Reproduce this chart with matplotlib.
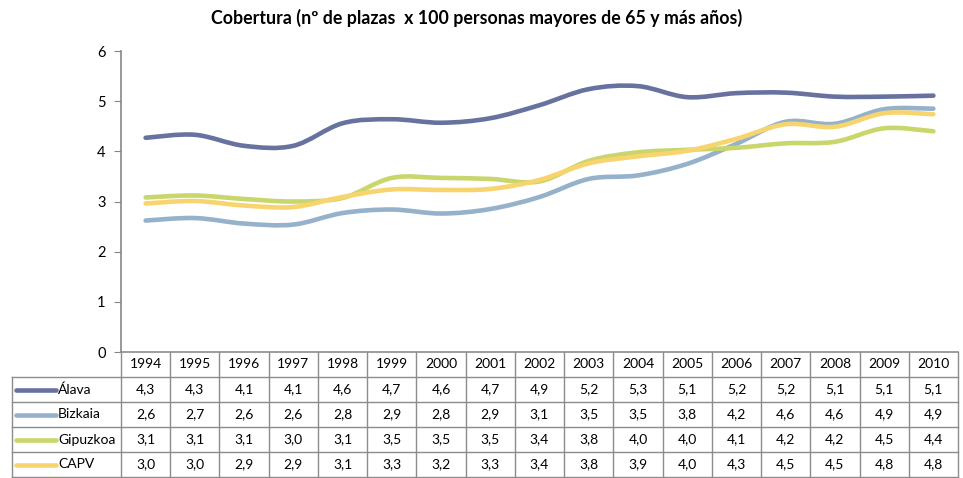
import matplotlib.pyplot as plt
from matplotlib.path import Path
from matplotlib.patches import PathPatch
import numpy as np

# data
years = [1994, 1995, 1996, 1997, 1998, 1999, 2000, 2001, 2002,
         2003, 2004, 2005, 2006, 2007, 2008, 2009, 2010]
series_names = ["Álava", "Bizkaia", "Gipuzkoa", "CAPV"]
alava = [4.27, 4.33, 4.11, 4.11, 4.56, 4.64, 4.57, 4.66, 4.92,
         5.24, 5.30, 5.08, 5.16, 5.17, 5.09, 5.09, 5.11]
bizkaia = [2.62, 2.67, 2.56, 2.54, 2.77, 2.84, 2.76, 2.85, 3.09,
           3.45, 3.52, 3.75, 4.15, 4.59, 4.55, 4.84, 4.85]
gipuzkoa = [3.08, 3.12, 3.05, 3.00, 3.07, 3.47, 3.47, 3.45, 3.40,
            3.81, 3.98, 4.03, 4.07, 4.16, 4.19, 4.46, 4.40]
capv = [2.96, 3.01, 2.92, 2.89, 3.09, 3.24, 3.23, 3.25, 3.43,
        3.76, 3.90, 4.01, 4.25, 4.54, 4.49, 4.76, 4.74]
# values printed in the data table
tab_alava = ["4,3", "4,3", "4,1", "4,1", "4,6", "4,7", "4,6", "4,7", "4,9",
             "5,2", "5,3", "5,1", "5,2", "5,2", "5,1", "5,1", "5,1"]
tab_bizkaia = ["2,6", "2,7", "2,6", "2,6", "2,8", "2,9", "2,8", "2,9", "3,1",
               "3,5", "3,5", "3,8", "4,2", "4,6", "4,6", "4,9", "4,9"]
tab_gipuzkoa = ["3,1", "3,1", "3,1", "3,0", "3,1", "3,5", "3,5", "3,5", "3,4",
                "3,8", "4,0", "4,0", "4,1", "4,2", "4,2", "4,5", "4,4"]
tab_capv = ["3,0", "3,0", "2,9", "2,9", "3,1", "3,3", "3,2", "3,3", "3,4",
            "3,8", "3,9", "4,0", "4,3", "4,5", "4,5", "4,8", "4,8"]

colors = ["#67729f", "#96b2ca", "#c9d66b", "#f8d46f"]
plt.rcParams["font.family"] = ["Lato", "DejaVu Sans"]

W, H = 963, 478
fig = plt.figure(figsize=(W / 100, H / 100), dpi=100)

# main plot area: x 121..958 px, y 51..352 px
ax = fig.add_axes([121 / W, 1 - 352 / H, (958 - 121) / W, (352 - 51) / H])
ax.set_xlim(-0.5, len(years) - 0.5)
ax.set_ylim(0, 6)
ax.set_yticks(range(0, 7))
ax.set_xticks([])
for s in ["top", "right", "bottom"]:
    ax.spines[s].set_visible(False)
ax.spines["left"].set_color("#868686")
ax.spines["left"].set_linewidth(1.2)
ax.tick_params(axis="y", color="#868686", length=5, labelsize=10.5, pad=6)


def smooth_path(xs, ys):
    # Excel-like smoothed line as cubic Bezier segments
    pts = np.column_stack([xs, ys]).astype(float)
    n = len(pts)
    verts = [pts[0]]
    codes = [Path.MOVETO]
    for i in range(n - 1):
        p0 = pts[i - 1] if i > 0 else pts[i]
        p1 = pts[i]
        p2 = pts[i + 1]
        p3 = pts[i + 2] if i + 2 < n else pts[i + 1]
        c1 = p1 + (p2 - p0) / 6
        c2 = p2 - (p3 - p1) / 6
        verts += [c1, c2, p2]
        codes += [Path.CURVE4] * 3
    return Path(verts, codes)


xs = np.arange(len(years))
for vals, col in zip([alava, bizkaia, gipuzkoa, capv], colors):
    ax.add_patch(PathPatch(smooth_path(xs, vals), facecolor="none",
                           edgecolor=col, lw=3.3, capstyle="round", zorder=3))

fig.text(477, H - 18, "Cobertura (nº de plazas  x 100 personas mayores de 65 y más años)",
         transform=None, ha="center", va="center", fontsize=12.8, fontweight="bold")

# data table below, in pixel coordinates
tab = fig.add_axes([0, 0, 1, 1])
tab.set_xlim(0, W)
tab.set_ylim(H, 0)
tab.axis("off")
gc = "#8c8c8c"
x0, x_left, x_right = 12, 121, 958
col_w = (x_right - x_left) / len(years)
row_edges = [352, 377, 402, 427, 452, 477]

# horizontal lines
tab.plot([x_left, x_right], [row_edges[0]] * 2, color=gc, lw=1.2)
for y in row_edges[1:]:
    tab.plot([x0, x_right], [y, y], color=gc, lw=1)
# vertical lines
for k in range(len(years) + 1):
    tab.plot([x_left + k * col_w] * 2, [row_edges[0], row_edges[-1]], color=gc, lw=1)
tab.plot([x0, x0], [row_edges[1], row_edges[-1]], color=gc, lw=1)

for k, yr in enumerate(years):
    tab.text(x_left + (k + 0.5) * col_w, (row_edges[0] + row_edges[1]) / 2, str(yr),
             ha="center", va="center", fontsize=10)

rows = [tab_alava, tab_bizkaia, tab_gipuzkoa, tab_capv]
for r, (name, vals, col) in enumerate(zip(series_names, rows, colors)):
    yc = (row_edges[r + 1] + row_edges[r + 2]) / 2
    tab.plot([16, 56], [yc, yc], color=col, lw=3.3, solid_capstyle="round")
    tab.text(58, yc, name, ha="left", va="center", fontsize=10)
    for k, v in enumerate(vals):
        tab.text(x_left + (k + 0.5) * col_w, yc, v, ha="center", va="center", fontsize=10)

fig.savefig("out.png", dpi=100)
